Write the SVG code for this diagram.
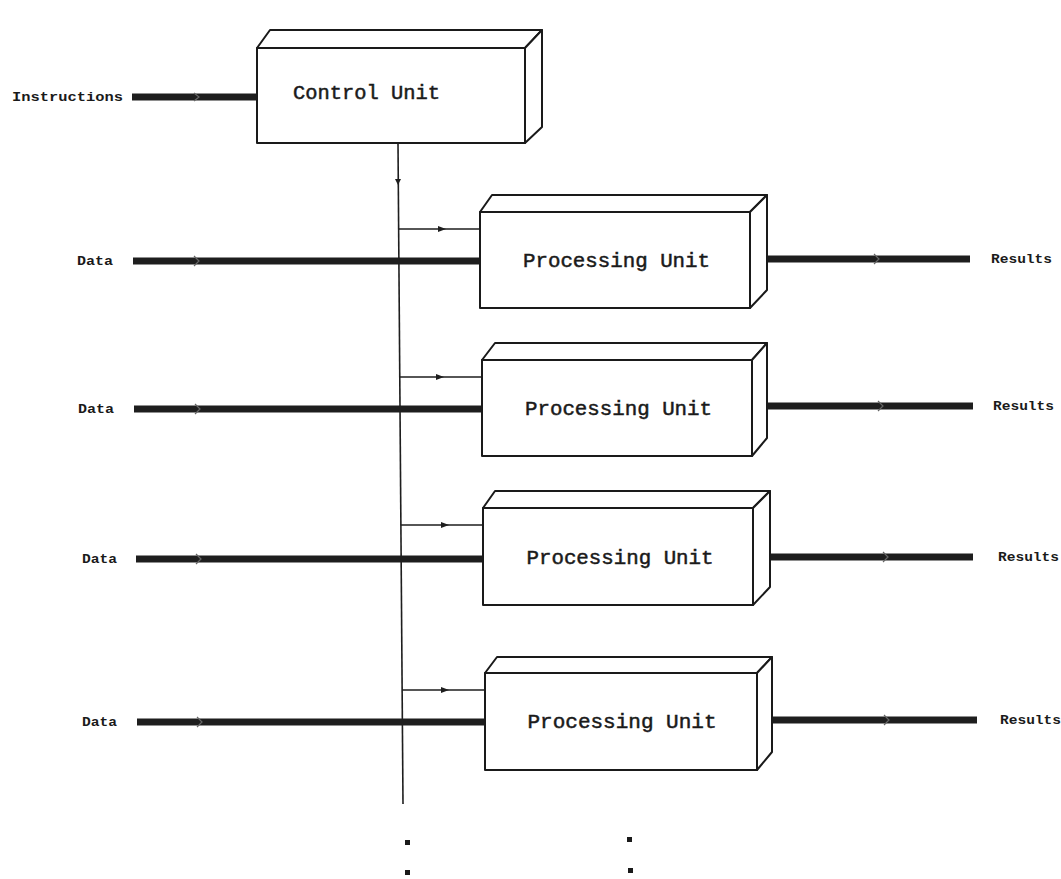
<svg xmlns="http://www.w3.org/2000/svg" width="1061" height="879" viewBox="0 0 1061 879">
<defs>
<style>
.box{fill:#fff;stroke:#1a1a1a;stroke-width:2;stroke-linejoin:round}
.side{fill:#fff;stroke:#1a1a1a;stroke-width:2;stroke-linejoin:round}
.thick{stroke:#1e1e1e;stroke-width:7;fill:none}
.thin{stroke:#1e1e1e;stroke-width:1.6;fill:none}
.tick{stroke:#666;stroke-width:1.2;fill:none}
.lbl{font-family:"Liberation Mono","DejaVu Sans Mono",monospace;font-weight:bold;fill:#1a1a1a}
.big{font-family:"Liberation Mono","DejaVu Sans Mono",monospace;font-size:20.5px;fill:#1a1a1a;stroke:#1a1a1a;stroke-width:0.5;text-anchor:middle}
.dot{fill:#1a1a1a}
</style>
<marker id="ah" viewBox="0 0 8 8" refX="4" refY="4" markerWidth="8" markerHeight="8" markerUnits="userSpaceOnUse" orient="auto">
<path d="M0,1 L8,4 L0,7 Z" fill="#1e1e1e"/>
</marker>
</defs>
<rect width="1061" height="879" fill="#fff"/>

<g id="connectors">
<line class="thick" x1="132" y1="97" x2="257" y2="97" stroke-width="6"/>
<path class="tick" d="M194,93 L199,97 L194,101"/>
<line class="thin" x1="398" y1="143" x2="403" y2="804"/>
<path d="M395,179 L401,179 L398,185 Z" fill="#1e1e1e"/>
<polyline class="thin" points="398.6,229 442,229 480,229" marker-mid="url(#ah)"/>
<polyline class="thin" points="399.8,377 440,377 482,377" marker-mid="url(#ah)"/>
<polyline class="thin" points="400.9,525 445,525 483,525" marker-mid="url(#ah)"/>
<polyline class="thin" points="402.1,690 445,690 485,690" marker-mid="url(#ah)"/>
<line class="thick" x1="133" y1="261" x2="480" y2="261"/>
<path class="tick" d="M194,256 L199,261 L194,266"/>
<line class="thick" x1="134" y1="409" x2="482" y2="409"/>
<path class="tick" d="M195,404 L200,409 L195,414"/>
<line class="thick" x1="136" y1="559" x2="483" y2="559"/>
<path class="tick" d="M196,554 L201,559 L196,564"/>
<line class="thick" x1="137" y1="722" x2="485" y2="722"/>
<path class="tick" d="M197,717 L202,722 L197,727"/>
<line class="thick" x1="757" y1="259" x2="970" y2="259" stroke-width="8"/>
<path class="tick" d="M874,254 L879,259 L874,264"/>
<line class="thick" x1="760" y1="406" x2="973" y2="406" stroke-width="8"/>
<path class="tick" d="M878,401 L883,406 L878,411"/>
<line class="thick" x1="763" y1="557" x2="973" y2="557" stroke-width="8"/>
<path class="tick" d="M883,552 L888,557 L883,562"/>
<line class="thick" x1="764" y1="720" x2="977" y2="720" stroke-width="8"/>
<path class="tick" d="M884,715 L889,720 L884,725"/>
</g>

<g id="labels">
<text class="lbl" x="12" y="101" font-size="12" textLength="111" lengthAdjust="spacingAndGlyphs">Instructions</text>
<text class="lbl" x="77" y="265" font-size="12" textLength="36" lengthAdjust="spacingAndGlyphs">Data</text>
<text class="lbl" x="78" y="413" font-size="12" textLength="36" lengthAdjust="spacingAndGlyphs">Data</text>
<text class="lbl" x="82" y="563" font-size="12" textLength="35" lengthAdjust="spacingAndGlyphs">Data</text>
<text class="lbl" x="82" y="726" font-size="12" textLength="35" lengthAdjust="spacingAndGlyphs">Data</text>
<text class="lbl" x="991" y="263" font-size="12" textLength="61" lengthAdjust="spacingAndGlyphs">Results</text>
<text class="lbl" x="993" y="410" font-size="12" textLength="61" lengthAdjust="spacingAndGlyphs">Results</text>
<text class="lbl" x="998" y="561" font-size="12" textLength="61" lengthAdjust="spacingAndGlyphs">Results</text>
<text class="lbl" x="1000" y="724" font-size="12" textLength="61" lengthAdjust="spacingAndGlyphs">Results</text>
</g>

<g id="control-unit">
<path class="side" d="M257,48 L270,30 L542,30 L525,48 Z"/>
<path class="side" d="M525,48 L542,30 L542,127 L525,143 Z"/>
<rect class="box" x="257" y="48" width="268" height="95"/>
<text class="big" x="366.5" y="99" textLength="147" lengthAdjust="spacingAndGlyphs">Control Unit</text>
</g>

<g id="pu1">
<path class="side" d="M480,212 L492,195 L767,195 L750,212 Z"/>
<path class="side" d="M750,212 L767,195 L767,290 L750,308 Z"/>
<rect class="box" x="480" y="212" width="270" height="96"/>
<text class="big" x="616.5" y="267" textLength="187" lengthAdjust="spacingAndGlyphs">Processing Unit</text>
</g>

<g id="pu2">
<path class="side" d="M482,360 L495,343 L767,343 L752,360 Z"/>
<path class="side" d="M752,360 L767,343 L767,438 L752,456 Z"/>
<rect class="box" x="482" y="360" width="270" height="96"/>
<text class="big" x="618.5" y="415" textLength="187" lengthAdjust="spacingAndGlyphs">Processing Unit</text>
</g>

<g id="pu3">
<path class="side" d="M483,508 L495,491 L770,491 L753,508 Z"/>
<path class="side" d="M753,508 L770,491 L770,587 L753,605 Z"/>
<rect class="box" x="483" y="508" width="270" height="97"/>
<text class="big" x="620" y="564" textLength="187" lengthAdjust="spacingAndGlyphs">Processing Unit</text>
</g>

<g id="pu4">
<path class="side" d="M485,673 L497,657 L772,657 L757,673 Z"/>
<path class="side" d="M757,673 L772,657 L772,752 L757,770 Z"/>
<rect class="box" x="485" y="673" width="272" height="97"/>
<text class="big" x="622" y="728" textLength="189" lengthAdjust="spacingAndGlyphs">Processing Unit</text>
</g>

<g id="ellipsis">
<rect class="dot" x="405" y="840" width="5" height="5"/>
<rect class="dot" x="405" y="870" width="5" height="5"/>
<rect class="dot" x="627" y="837" width="5" height="5"/>
<rect class="dot" x="628" y="868" width="5" height="5"/>
</g>
</svg>
